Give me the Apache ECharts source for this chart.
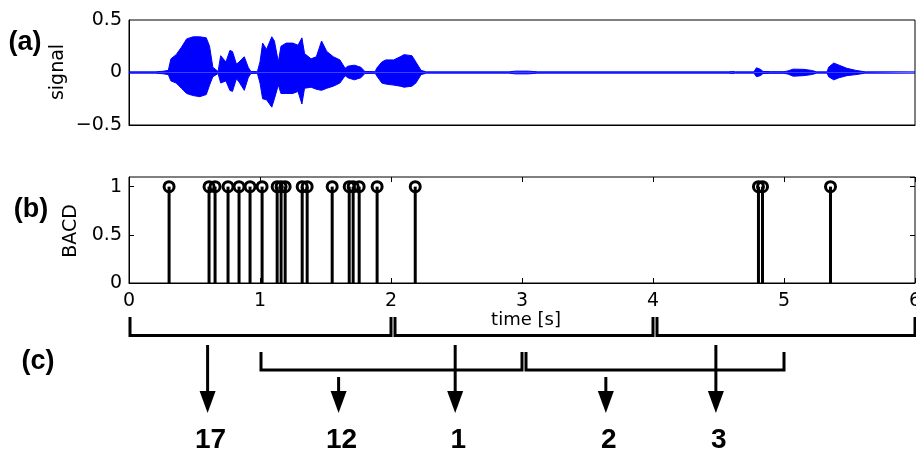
<!DOCTYPE html>
<html><head><meta charset="utf-8">
<script src="https://cdn.jsdelivr.net/npm/echarts@6/dist/echarts.min.js"></script>
<style>html,body{margin:0;padding:0;background:#fff}#c{width:916px;height:452px}</style>
</head><body><div id="c"></div>
<script>
// ---- data ----
const sigT = [0,0.2,0.26,0.3,0.32,0.36,0.40,0.44,0.49,0.54,0.59,0.615,0.64,0.68,0.70,0.74,0.77,0.79,0.82,0.84,0.88,0.91,0.93,0.98,1.00,1.02,1.05,1.09,1.11,1.14,1.16,1.20,1.25,1.29,1.32,1.34,1.39,1.43,1.47,1.51,1.56,1.61,1.65,1.67,1.72,1.77,1.80,1.88,1.89,1.93,1.96,2.02,2.07,2.10,2.16,2.19,2.23,2.27,2.90,2.95,3.05,3.12,4.58,4.60,4.63,4.77,4.79,4.82,4.84,4.90,5.00,5.03,5.07,5.15,5.21,5.25,5.33,5.34,5.38,5.42,5.48,5.55,5.62,6.0];
const sigUp = [0.006,0.006,0.012,0.02,0.13,0.17,0.24,0.32,0.34,0.34,0.33,0.25,0.05,0.01,0.16,0.1,0.21,0.2,0.08,0.1,0.15,0.05,0.01,0.008,0.1,0.28,0.22,0.34,0.3,0.1,0.25,0.28,0.28,0.26,0.33,0.18,0.13,0.15,0.3,0.2,0.15,0.12,0.04,0.06,0.07,0.05,0.01,0.008,0.04,0.1,0.12,0.12,0.15,0.17,0.16,0.1,0.02,0.006,0.006,0.013,0.013,0.006,0.006,0.01,0.006,0.006,0.045,0.03,0.01,0.008,0.008,0.015,0.032,0.03,0.02,0.006,0.006,0.05,0.09,0.07,0.04,0.02,0.006,0.006];
const sigLo = [-0.006,-0.006,-0.012,-0.02,-0.08,-0.1,-0.15,-0.2,-0.22,-0.23,-0.21,-0.12,-0.04,-0.01,-0.1,-0.08,-0.17,-0.18,-0.06,-0.09,-0.17,-0.05,-0.01,-0.008,-0.1,-0.25,-0.26,-0.33,-0.25,-0.12,-0.2,-0.2,-0.2,-0.18,-0.3,-0.15,-0.14,-0.16,-0.17,-0.15,-0.13,-0.1,-0.03,-0.05,-0.07,-0.05,-0.01,-0.008,-0.03,-0.1,-0.11,-0.12,-0.13,-0.14,-0.13,-0.1,-0.02,-0.006,-0.006,-0.013,-0.013,-0.006,-0.006,-0.01,-0.006,-0.006,-0.04,-0.03,-0.01,-0.008,-0.008,-0.015,-0.035,-0.03,-0.02,-0.006,-0.006,-0.04,-0.07,-0.05,-0.03,-0.02,-0.006,-0.006];
const bacdT = [0.306,0.611,0.657,0.756,0.840,0.924,1.016,1.131,1.161,1.192,1.322,1.360,1.551,1.681,1.711,1.757,1.894,2.185,4.805,4.836,5.355];
const bacdV = [1,1,1,1,1,1,1,1,1,1,1,1,1,1,1,1,1,1,1,1,1];
const winStart = [0,2,4,1,3];
const winEnd   = [2,4,6,3,5];
const winRow   = [0,0,0,1,1];
const arrowT   = [0.60,1.60,2.49,3.64,4.48];
const arrowRow = [0,1,0,1,0];
const counts   = ['17','12','1','2','3'];
const xTicks = [0,1,2,3,4,5,6];

// ---- layout constants (panel c, in grid units = px below panel top) ----
const rowTop = [17, 52], rowBase = [35.5, 70], arrowTop = [45, 77];
const headBase = 91, headTip = 113, labelY = 140;

const tickFont = "'DejaVu Sans', sans-serif";
const boldFont = "'Liberation Sans', Arial, sans-serif";

const chart = echarts.init(document.getElementById('c'), null, {renderer:'canvas'});
const lbl = {color:'#000', fontFamily: tickFont, fontSize: 19};
const axLine = {show:true, onZero:false, lineStyle:{color:'#000', width:1}};
const noLine = {show:false, onZero:false};
const ticksIn = {show:true, inside:true, length:5, lineStyle:{color:'#000', width:1}};
const gridBox = {show:true, borderColor:'#000', borderWidth:1, backgroundColor:'transparent', outerBoundsMode:'none', containLabel:false};

const winData = winStart.map((s,i)=>{
  const gap = winEnd.some((e,j)=> winRow[j]===winRow[i] && e===s) ? 1 : 0;
  return [s, winEnd[i], winRow[i], gap];
});
const arrowData = arrowT.map((t,i)=>[t, arrowRow[i], counts[i]]);

chart.setOption({
  animation:false,
  backgroundColor:'#fff',
  grid:[
    Object.assign({left:129, right:1, top:20, height:105}, gridBox),
    Object.assign({left:129, right:1, top:177, height:106}, gridBox),
    {left:129, right:1, top:300, height:150, show:false, outerBoundsMode:'none', containLabel:false}
  ],
  xAxis:[
    {gridIndex:0, type:'value', min:0, max:6, interval:1, axisLine:axLine, axisTick:{show:false}, axisLabel:{show:false}, splitLine:{show:false}},
    {gridIndex:1, type:'value', min:0, max:6, interval:1, axisLine:axLine, axisTick:ticksIn,
      axisLabel:Object.assign({margin:9, showMaxLabel:true, showMinLabel:true, hideOverlap:false, formatter:v=> xTicks.includes(v)? String(v):''}, lbl), splitLine:{show:false}},
    {gridIndex:1, type:'value', min:0, max:6, interval:1, position:'top', axisLine:noLine, axisTick:ticksIn, axisLabel:{show:false}, splitLine:{show:false}},
    {gridIndex:2, type:'value', min:0, max:6, show:false}
  ],
  yAxis:[
    {gridIndex:0, type:'value', min:-0.5, max:0.5, interval:0.5, axisLine:axLine, axisTick:{show:false},
      axisLabel:Object.assign({margin:7, formatter:v=> v<0 ? '\u2212'+Math.abs(v) : String(v)}, lbl), splitLine:{show:false}},
    {gridIndex:1, type:'value', min:0, max:1.1, interval:0.5, axisLine:axLine, axisTick:ticksIn,
      axisLabel:Object.assign({margin:7, showMaxLabel:false}, lbl), splitLine:{show:false}},
    {gridIndex:1, type:'value', min:0, max:1.1, interval:0.5, position:'right', axisLine:noLine, axisTick:ticksIn, axisLabel:{show:false}, splitLine:{show:false}},
    {gridIndex:2, type:'value', min:0, max:150, inverse:true, show:false}
  ],
  graphic:[
    {type:'text', x:25, y:43, style:{text:'(a)', font:"bold 27px "+boldFont, fill:'#000', align:'center', verticalAlign:'middle'}},
    {type:'text', x:31, y:210, style:{text:'(b)', font:"bold 27px "+boldFont, fill:'#000', align:'center', verticalAlign:'middle'}},
    {type:'text', x:38, y:362, style:{text:'(c)', font:"bold 27px "+boldFont, fill:'#000', align:'center', verticalAlign:'middle'}},
    {type:'text', x:58, y:72, rotation:Math.PI/2, style:{text:'signal', font:"19px "+tickFont, fill:'#000', align:'center', verticalAlign:'middle'}},
    {type:'text', x:71, y:231, rotation:Math.PI/2, style:{text:'BACD', font:"19px "+tickFont, fill:'#000', align:'center', verticalAlign:'middle'}},
    {type:'text', x:526, y:320, style:{text:'time [s]', font:"18px "+tickFont, fill:'#000', align:'center', verticalAlign:'middle'}}
  ],
  series:[
    {type:'line', xAxisIndex:0, yAxisIndex:0, data:sigT.map((t,i)=>[t,sigUp[i]]), showSymbol:false, symbol:'none',
      lineStyle:{color:'#0000ff', width:1}, areaStyle:{color:'#0000ff', opacity:1, origin:0}, z:2},
    {type:'line', xAxisIndex:0, yAxisIndex:0, data:sigT.map((t,i)=>[t,sigLo[i]]), showSymbol:false, symbol:'none',
      lineStyle:{color:'#0000ff', width:1}, areaStyle:{color:'#0000ff', opacity:1, origin:0}, z:2},
    {type:'bar', xAxisIndex:1, yAxisIndex:1, data:bacdT.map((t,i)=>[t,bacdV[i]]), barWidth:3,
      itemStyle:{color:'#000'}, z:2},
    {type:'scatter', xAxisIndex:1, yAxisIndex:1, data:bacdT.map((t,i)=>[t,bacdV[i]]), symbol:'circle', symbolSize:10,
      itemStyle:{color:'rgba(255,255,255,0)', borderColor:'#000', borderWidth:3, opacity:1}, z:3},
    {type:'custom', xAxisIndex:3, yAxisIndex:3, data:winData, z:3,
      renderItem:(params, api)=>{
        const s=api.value(0), e=api.value(1), r=api.value(2), g=api.value(3);
        const x1 = api.coord([s,0])[0] + (g?4:1), x2 = api.coord([e,0])[0];
        const yt = api.coord([0,rowTop[r]])[1], yb = api.coord([0,rowBase[r]])[1];
        return {type:'polyline', shape:{points:[[x1,yt],[x1,yb],[x2,yb],[x2,yt]]},
          style:{stroke:'#000', lineWidth:3, fill:null, lineJoin:'miter'}};
      }},
    {type:'custom', xAxisIndex:3, yAxisIndex:3, data:arrowData, z:4,
      renderItem:(params, api)=>{
        const t=api.value(0), r=api.value(1), txt=counts[params.dataIndex];
        const x = api.coord([t,0])[0];
        const y0 = api.coord([0,arrowTop[r]])[1], yh = api.coord([0,headBase])[1], yt = api.coord([0,headTip])[1];
        const yl = api.coord([0,labelY])[1];
        return {type:'group', children:[
          {type:'line', shape:{x1:x,y1:y0,x2:x,y2:yh+2}, style:{stroke:'#000', lineWidth:3}},
          {type:'polygon', shape:{points:[[x-8,yh],[x+8,yh],[x,yt]]}, style:{fill:'#000'}},
          {type:'text', x:x+3, y:yl, style:{text:txt, font:"bold 28px "+boldFont, fill:'#000', align:'center', verticalAlign:'middle'}}
        ]};
      }}
  ]
});
</script></body></html>
